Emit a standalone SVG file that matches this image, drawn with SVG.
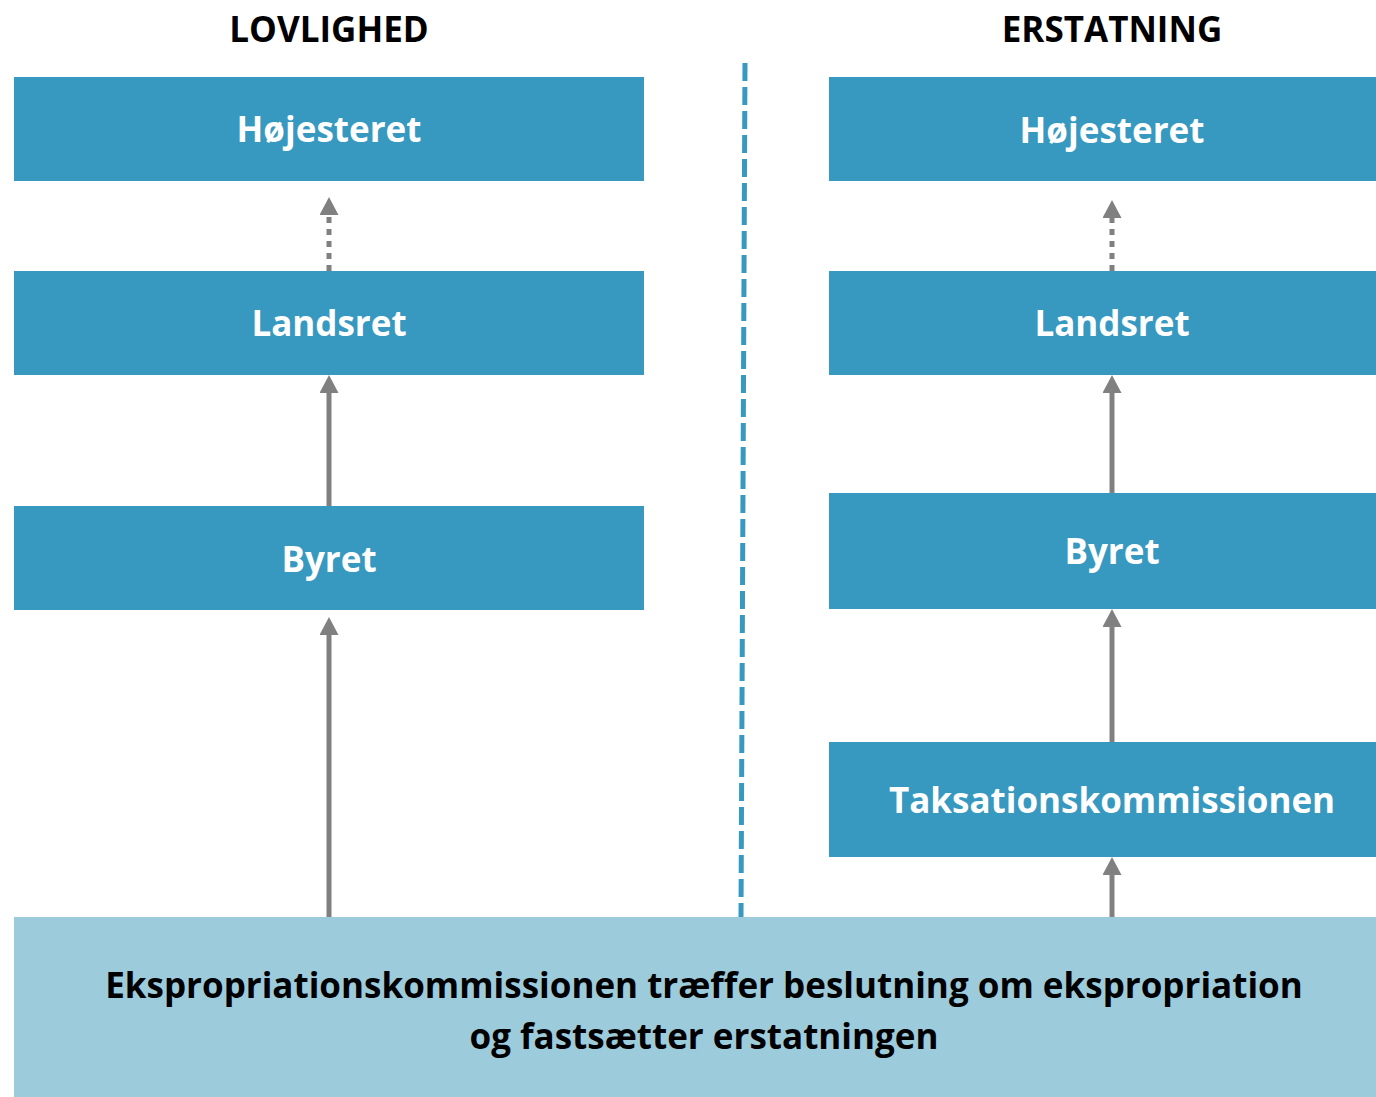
<svg xmlns="http://www.w3.org/2000/svg" width="1376" height="1097" viewBox="0 0 1376 1097">
  <style>
    .box { fill: #3799C0; }
    .base { fill: #9CCBDC; }
    .lbl { font-family: "Open Sans", "Liberation Sans", sans-serif; font-weight: 700; font-size: 35px; fill: #FFFFFF; text-anchor: middle; }
    .head { font-family: "Open Sans", "Liberation Sans", sans-serif; font-weight: 700; font-size: 35px; fill: #000000; text-anchor: middle; }
    .dark { font-family: "Open Sans", "Liberation Sans", sans-serif; font-weight: 700; font-size: 35px; fill: #000000; text-anchor: middle; }
    .arr { stroke: #808080; stroke-width: 5; fill: none; marker-end: url(#tip); }
    .dot { stroke-dasharray: 6 6; }
  </style>
  <defs>
    <marker id="tip" viewBox="0 0 18 19" refX="0" refY="9.5" markerWidth="18" markerHeight="19" markerUnits="userSpaceOnUse" orient="auto">
      <path d="M0,0 L18,9.5 L0,19 Z" fill="#808080"/>
    </marker>
  </defs>
  <rect width="1376" height="1097" fill="#FFFFFF"/>

  <!-- column headings -->
  <text class="head" x="329" y="42">LOVLIGHED</text>
  <text class="head" x="1112" y="42">ERSTATNING</text>

  <!-- separator between the two columns -->
  <line x1="745" y1="63" x2="741" y2="917" stroke="#3799C0" stroke-width="5" stroke-dasharray="18 6"/>

  <!-- connectors -->
  <g id="connectors">
    <path class="arr dot" d="M329,271 L329,215"/>
    <path class="arr" d="M329,506 L329,393"/>
    <path class="arr" d="M329,917 L329,635"/>
    <path class="arr dot" d="M1112,271 L1112,218"/>
    <path class="arr" d="M1112,493 L1112,393"/>
    <path class="arr" d="M1112,742 L1112,627"/>
    <path class="arr" d="M1112,917 L1112,875"/>
  </g>

  <!-- left column -->
  <g id="lov-hoejesteret">
    <rect class="box" x="14" y="77" width="630" height="104"/>
    <text class="lbl" x="329" y="142">Højesteret</text>
  </g>
  <g id="lov-landsret">
    <rect class="box" x="14" y="271" width="630" height="104"/>
    <text class="lbl" x="329" y="336">Landsret</text>
  </g>
  <g id="lov-byret">
    <rect class="box" x="14" y="506" width="630" height="104"/>
    <text class="lbl" x="329" y="572">Byret</text>
  </g>

  <!-- right column -->
  <g id="erst-hoejesteret">
    <rect class="box" x="829" y="77" width="547" height="104"/>
    <text class="lbl" x="1112" y="143">Højesteret</text>
  </g>
  <g id="erst-landsret">
    <rect class="box" x="829" y="271" width="547" height="104"/>
    <text class="lbl" x="1112" y="336">Landsret</text>
  </g>
  <g id="erst-byret">
    <rect class="box" x="829" y="493" width="547" height="116"/>
    <text class="lbl" x="1112" y="564">Byret</text>
  </g>
  <g id="erst-taksation">
    <rect class="box" x="829" y="742" width="547" height="115"/>
    <text class="lbl" x="1112" y="813">Taksationskommissionen</text>
  </g>

  <!-- common starting point -->
  <g id="ekspropriation">
    <rect class="base" x="14" y="917" width="1362" height="180"/>
    <text class="dark" x="704" y="998">Ekspropriationskommissionen træffer beslutning om ekspropriation</text>
    <text class="dark" x="704" y="1049">og fastsætter erstatningen</text>
  </g>
</svg>
